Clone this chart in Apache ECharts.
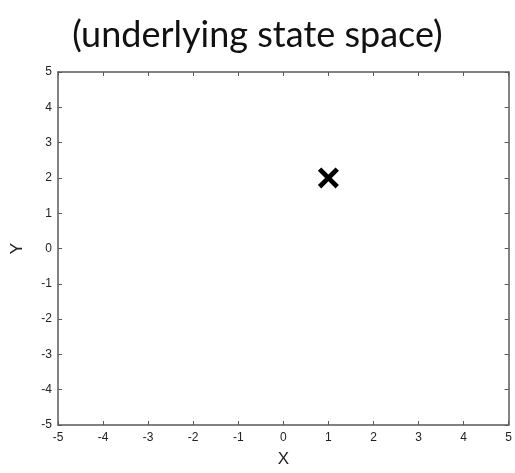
<!DOCTYPE html>
<html>
<head>
<meta charset="utf-8">
<script src="https://cdn.jsdelivr.net/npm/echarts@6/dist/echarts.min.js"></script>
<style>
  html, body { margin: 0; padding: 0; background: #fff; }
  #chart { width: 515px; height: 473px; }
</style>
</head>
<body>
<div id="chart"></div>
<script>
// state point and axis ranges
const statePoints = [[1, 2]];
const xRange = [-5, 5];
const yRange = [-5, 5];

const axisColor = '#5a5a5a';
const tickFont = { fontFamily: 'Liberation Sans', fontSize: 12, color: '#222' };

// X marker drawn as filled polygon
const crossPath = 'path://M1.6,0 L5,3.4 L8.4,0 L10,1.6 L6.6,5 L10,8.4 L8.4,10 L5,6.6 L1.6,10 L0,8.4 L3.4,5 L0,1.6 Z';

const boxAxis = (extra) => Object.assign({
    type: 'value',
    interval: 1,
    axisLine: { show: true, onZero: false, lineStyle: { color: axisColor, width: 1.5 } },
    axisTick: { show: true, inside: true, length: 4, lineStyle: { color: axisColor } },
    splitLine: { show: false }
}, extra);

const option = {
    animation: false,
    title: {
        text: '(underlying state space)',
        left: 'center',
        top: 12,
        textStyle: { fontFamily: 'Lato', fontWeight: 'normal', fontSize: 36, color: '#111' }
    },
    grid: { left: 58, right: 3, top: 72, bottom: 43 },
    xAxis: [
        boxAxis({
            min: xRange[0], max: xRange[1], position: 'bottom',
            axisLabel: Object.assign({ margin: 7 }, tickFont),
            name: 'X', nameLocation: 'middle', nameGap: 26,
            nameTextStyle: { fontFamily: 'Liberation Sans', fontSize: 17, color: '#222' }
        }),
        boxAxis({ min: xRange[0], max: xRange[1], position: 'top', axisLabel: { show: false } })
    ],
    yAxis: [
        boxAxis({
            min: yRange[0], max: yRange[1], position: 'left',
            axisLabel: Object.assign({ margin: 6 }, tickFont),
            name: 'Y', nameLocation: 'middle', nameGap: 32, nameRotate: 90,
            nameTextStyle: { fontFamily: 'Liberation Sans', fontSize: 17, color: '#222' }
        }),
        boxAxis({ min: yRange[0], max: yRange[1], position: 'right', axisLabel: { show: false } })
    ],
    series: [{
        type: 'scatter',
        data: statePoints,
        symbol: crossPath,
        symbolSize: 21,
        itemStyle: { color: '#000', opacity: 1 }
    }]
};

const chart = echarts.init(document.getElementById('chart'));
chart.setOption(option);
</script>
</body>
</html>
